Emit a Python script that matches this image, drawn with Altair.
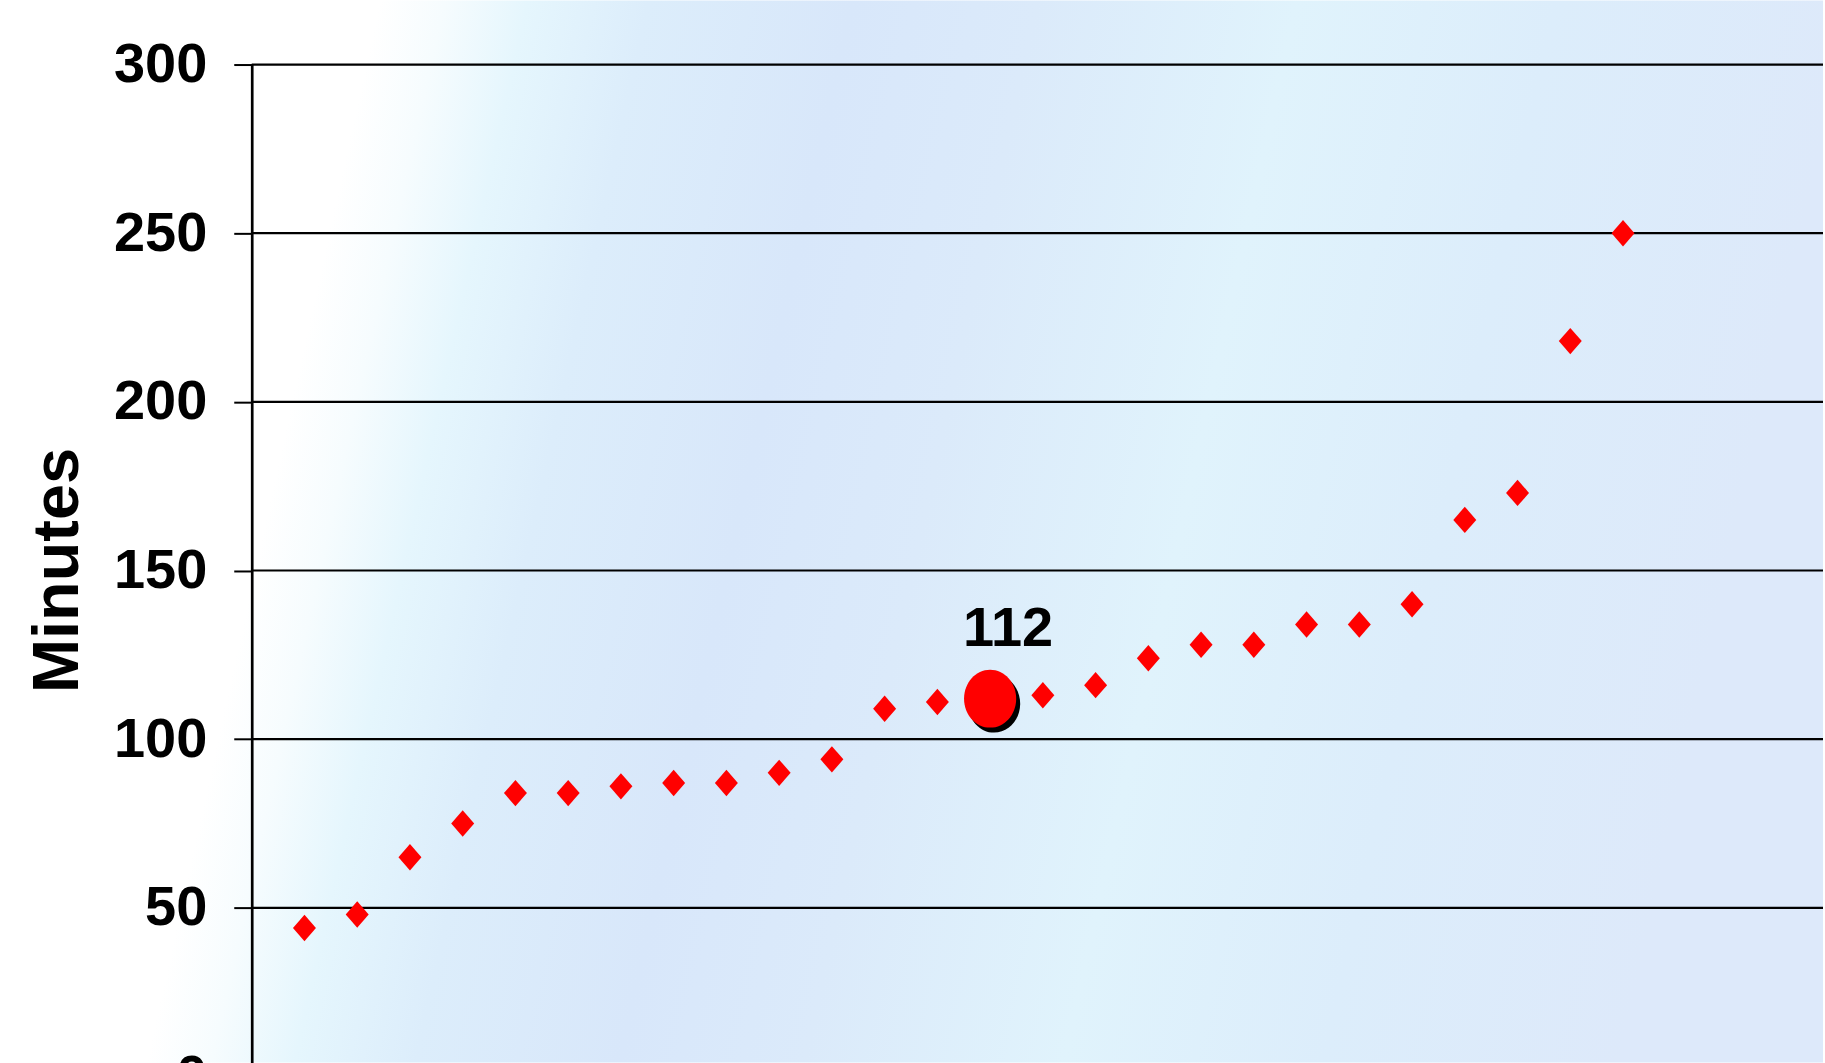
import altair as alt
import pandas as pd

# ---- data ----
positions = list(range(1, 27))
minutes = [44, 48, 65, 75, 84, 84, 86, 87, 87, 90, 94, 109, 111, 112,
           113, 116, 124, 128, 128, 134, 134, 140, 165, 173, 218, 250]
highlight_position = 14
highlight_label = "112"
y_ticks = [0, 50, 100, 150, 200, 250, 300]
y_title = "Minutes"

# ---- layout ----
LEFT = 252          # plot left inside the chart
TOP = 64            # plot top inside the chart
PLOT_W = 1825 - LEFT
PLOT_H = 1013
X_MAX = PLOT_W / 52.8
LABEL_FONT = "Liberation Sans Narrow, Nimbus Sans Narrow, Arial Narrow, Liberation Sans, Arial"
TITLE_FONT = "Liberation Sans, Arial"

df = pd.DataFrame({"pos": positions, "min": minutes})
diamonds_df = df[df["pos"] != highlight_position]
hi_df = df[df["pos"] == highlight_position].assign(label=highlight_label)
grid_df = pd.DataFrame({"v": y_ticks})

xs = alt.Scale(domain=[0, X_MAX], nice=False, zero=False)
ys = alt.Scale(domain=[0, 300], nice=False)

bg = alt.Chart(grid_df.head(1)).mark_rect(
    color=alt.LinearGradient(
        gradient="linear",
        x1=0, y1=0, x2=1, y2=0.128,
        stops=[
            alt.GradientStop(color="#ffffff", offset=0.0),
            alt.GradientStop(color="#ffffff", offset=0.205),
            alt.GradientStop(color="#f6fcfe", offset=0.24),
            alt.GradientStop(color="#e5f6fd", offset=0.285),
            alt.GradientStop(color="#dcedfb", offset=0.35),
            alt.GradientStop(color="#d8e7fa", offset=0.46),
            alt.GradientStop(color="#dbeafa", offset=0.56),
            alt.GradientStop(color="#e0f3fc", offset=0.70),
            alt.GradientStop(color="#dcedfb", offset=0.84),
            alt.GradientStop(color="#dde9fa", offset=1.0),
        ],
    )
).encode(
    x=alt.value(-LEFT), x2=alt.value(PLOT_W),
    y=alt.value(-TOP), y2=alt.value(1063 - TOP),
)

grid = alt.Chart(grid_df).mark_rule(color="#000000", strokeWidth=2.2).encode(
    y=alt.Y("v:Q", scale=ys,
            axis=alt.Axis(values=y_ticks, title=y_title, grid=False,
                          labelFont=LABEL_FONT, labelFontSize=56, labelFontWeight="bold",
                          labelColor="#000000", labelPadding=27,
                          tickSize=18, tickWidth=2, tickColor="#000000",
                          domainColor="#000000", domainWidth=2.7,
                          titleFont=TITLE_FONT, titleFontSize=65, titleFontWeight="bold",
                          titleColor="#000000", titleAngle=270,
                          titleAlign="center", titleBaseline="alphabetic",
                          titleX=-174, titleY=506, zindex=1)),
    x=alt.value(0), x2=alt.value(PLOT_W),
)

diamonds = alt.Chart(diamonds_df).mark_point(
    shape="M0,-1.15L1,0L0,1.15L-1,0Z", size=529, filled=True,
    color="#ff0000", opacity=1, strokeWidth=0,
).encode(
    x=alt.X("pos:Q", scale=xs, axis=None),
    y=alt.Y("min:Q", scale=ys),
)

ellipse = "M-0.9,0A0.9,1,0,1,1,0.9,0A0.9,1,0,1,1,-0.9,0Z"
shadow = alt.Chart(hi_df).mark_point(
    shape=ellipse, size=3364, filled=True, color="#000000", opacity=1,
    strokeWidth=0, xOffset=4, yOffset=5,
).encode(x=alt.X("pos:Q", scale=xs), y=alt.Y("min:Q", scale=ys))

circle = alt.Chart(hi_df).mark_point(
    shape=ellipse, size=3364, filled=True, color="#ff0000", opacity=1,
    strokeWidth=0,
).encode(x=alt.X("pos:Q", scale=xs), y=alt.Y("min:Q", scale=ys))

label = alt.Chart(hi_df).mark_text(
    font=LABEL_FONT, fontSize=56, fontWeight="bold", color="#000000",
    align="center", baseline="alphabetic", dx=18, dy=-53,
).encode(x=alt.X("pos:Q", scale=xs), y=alt.Y("min:Q", scale=ys), text="label:N")

chart = alt.layer(bg, grid, diamonds, shadow, circle, label).properties(
    width=PLOT_W, height=PLOT_H, padding=0, background="#ffffff",
).configure_view(strokeWidth=0)

chart.save("out.html", embed_options={"renderer": "svg", "actions": False})
